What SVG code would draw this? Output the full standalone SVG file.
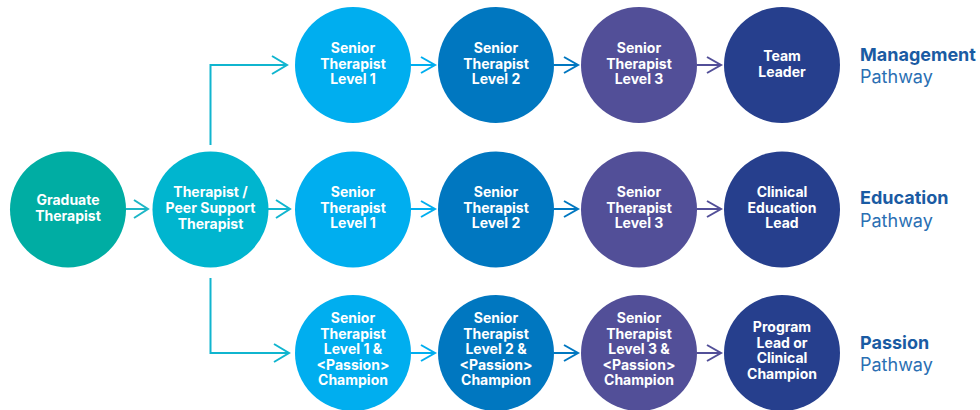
<svg xmlns="http://www.w3.org/2000/svg" width="980" height="410" viewBox="0 0 980 410">
<style>
.n text{font-family:Inter,"Liberation Sans",Arial,sans-serif;font-weight:700;font-size:14px;fill:#ffffff;text-anchor:middle}
.lbl{font-family:Inter,"Liberation Sans",Arial,sans-serif;font-size:18px}
.lb{font-weight:700;fill:#1a5ba3}
.lr{font-weight:400;fill:#2a6fb3}
.c{fill:none;stroke-width:2;stroke-linecap:butt;stroke-linejoin:miter}
</style>
<rect width="980" height="410" fill="#ffffff"/>
<g id="connectors">
<path class="c" stroke="#1db6c6" d="M126 209H148M134 200L148 209L134 218"/>
<path class="c" stroke="#10b5cf" d="M268 209H290M276 200L290 209L276 218"/>
<path class="c" stroke="#10b5cf" d="M210.5 145V65H287M272 56L287 65L272 74"/>
<path class="c" stroke="#10b5cf" d="M210.5 278V353H289M274 344L289 353L274 362"/>
<path class="c" stroke="#00aeef" d="M411 65H435M421 57L435 65L421 73"/>
<path class="c" stroke="#00aeef" d="M411 209H435M421 201L435 209L421 217"/>
<path class="c" stroke="#00aeef" d="M411 353H435M421 345L435 353L421 361"/>
<path class="c" stroke="#0077c0" d="M554 65H578M564 57L578 65L564 73"/>
<path class="c" stroke="#0077c0" d="M554 209H578M564 201L578 209L564 217"/>
<path class="c" stroke="#0077c0" d="M554 353H578M564 345L578 353L564 361"/>
<path class="c" stroke="#524f98" d="M697 65H721M707 57L721 65L707 73"/>
<path class="c" stroke="#524f98" d="M697 209H721M707 201L721 209L707 217"/>
<path class="c" stroke="#524f98" d="M697 353H721M707 345L721 353L707 361"/>
</g>
<g id="graduate" class="n"><circle cx="68" cy="209.5" r="58" fill="#00ada3"/><text x="68" y="205">Graduate</text><text x="68" y="221">Therapist</text></g>
<g id="therapist" class="n"><circle cx="210.5" cy="209.5" r="58" fill="#00b5cf"/><text x="210.5" y="196.5">Therapist /</text><text x="210.5" y="212.5">Peer Support</text><text x="210.5" y="228.5">Therapist</text></g>

<g id="m1" class="n"><circle cx="353" cy="65" r="58" fill="#00aeef"/><text x="353" y="53">Senior</text><text x="353" y="68.5">Therapist</text><text x="353" y="84">Level 1</text></g>
<g id="m2" class="n"><circle cx="496" cy="65" r="58" fill="#0077c0"/><text x="496" y="53">Senior</text><text x="496" y="68.5">Therapist</text><text x="496" y="84">Level 2</text></g>
<g id="m3" class="n"><circle cx="639" cy="65" r="58" fill="#524f98"/><text x="639" y="53">Senior</text><text x="639" y="68.5">Therapist</text><text x="639" y="84">Level 3</text></g>
<g id="m4" class="n"><circle cx="782" cy="65" r="58" fill="#263f8d"/><text x="782" y="61">Team</text><text x="782" y="76.5">Leader</text></g>

<g id="e1" class="n"><circle cx="353" cy="209.5" r="58" fill="#00aeef"/><text x="353" y="197">Senior</text><text x="353" y="212.5">Therapist</text><text x="353" y="228">Level 1</text></g>
<g id="e2" class="n"><circle cx="496" cy="209.5" r="58" fill="#0077c0"/><text x="496" y="197">Senior</text><text x="496" y="212.5">Therapist</text><text x="496" y="228">Level 2</text></g>
<g id="e3" class="n"><circle cx="639" cy="209.5" r="58" fill="#524f98"/><text x="639" y="197">Senior</text><text x="639" y="212.5">Therapist</text><text x="639" y="228">Level 3</text></g>
<g id="e4" class="n"><circle cx="782" cy="209.5" r="58" fill="#263f8d"/><text x="782" y="197">Clinical</text><text x="782" y="212.5">Education</text><text x="782" y="228">Lead</text></g>

<g id="p1" class="n"><circle cx="353" cy="353" r="58" fill="#00aeef"/><text x="353" y="323">Senior</text><text x="353" y="338.5">Therapist</text><text x="353" y="354">Level 1 &amp;</text><text x="353" y="369.5">&lt;Passion&gt;</text><text x="353" y="385">Champion</text></g>
<g id="p2" class="n"><circle cx="496" cy="353" r="58" fill="#0077c0"/><text x="496" y="323">Senior</text><text x="496" y="338.5">Therapist</text><text x="496" y="354">Level 2 &amp;</text><text x="496" y="369.5">&lt;Passion&gt;</text><text x="496" y="385">Champion</text></g>
<g id="p3" class="n"><circle cx="639" cy="353" r="58" fill="#524f98"/><text x="639" y="323">Senior</text><text x="639" y="338.5">Therapist</text><text x="639" y="354">Level 3 &amp;</text><text x="639" y="369.5">&lt;Passion&gt;</text><text x="639" y="385">Champion</text></g>
<g id="p4" class="n"><circle cx="782" cy="353" r="58" fill="#263f8d"/><text x="782" y="332">Program</text><text x="782" y="347.5">Lead or</text><text x="782" y="363">Clinical</text><text x="782" y="378.5">Champion</text></g>

<g id="label-management"><text class="lbl lb" x="860" y="61">Management</text><text class="lbl lr" x="860" y="83">Pathway</text></g>
<g id="label-education"><text class="lbl lb" x="860" y="204">Education</text><text class="lbl lr" x="860" y="227">Pathway</text></g>
<g id="label-passion"><text class="lbl lb" x="860" y="349">Passion</text><text class="lbl lr" x="860" y="371">Pathway</text></g>
</svg>
